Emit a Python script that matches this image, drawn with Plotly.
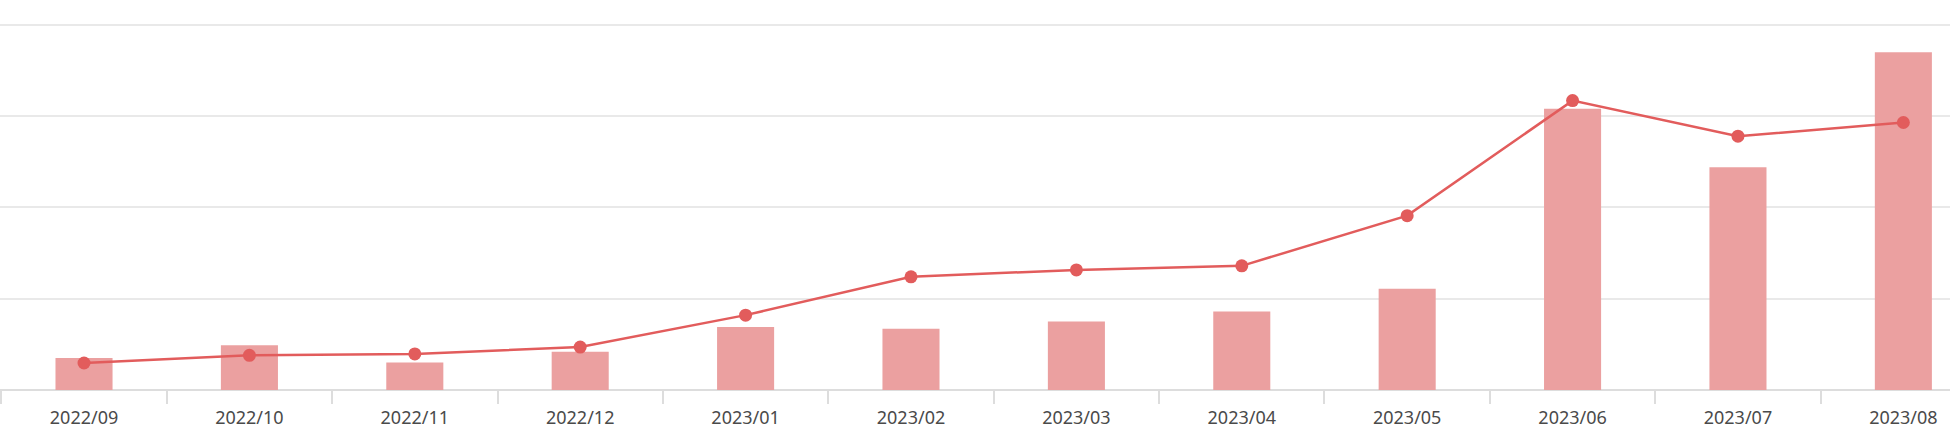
import plotly.graph_objects as go

months = ["2022/09", "2022/10", "2022/11", "2022/12", "2023/01", "2023/02",
          "2023/03", "2023/04", "2023/05", "2023/06", "2023/07", "2023/08"]
bar_values = [35, 49, 30, 42, 69, 67, 75, 86, 111, 308, 244, 370]
line_values = [29.6, 38, 39.5, 47, 82, 124, 131.5, 136, 191, 317, 278, 293]

bar_color = "rgb(235,160,160)"
line_color = "rgb(226,92,92)"

fig = go.Figure()
fig.add_trace(go.Bar(
    x=months, y=bar_values, width=0.345,
    marker=dict(color=bar_color, line=dict(width=0)),
    showlegend=False,
))
fig.add_trace(go.Scatter(
    x=months, y=line_values, mode="lines+markers",
    line=dict(color=line_color, width=2.5),
    marker=dict(color=line_color, size=13),
    showlegend=False,
))

fig.update_layout(
    width=1950, height=438,
    margin=dict(l=0, r=0, t=23, b=48, autoexpand=False),
    paper_bgcolor="white", plot_bgcolor="white",
    font=dict(family="Noto Sans, Liberation Sans, sans-serif", color="#4a4a4a"),
    xaxis=dict(
        type="category",
        range=[-0.508, 11.282],
        autorange=False,
        automargin=False,
        showgrid=False,
        showline=False,
        ticks="outside", tickson="boundaries", ticklen=13,
        tickcolor="#dddddd", tickwidth=1.5,
        ticklabelstandoff=15,
        tickfont=dict(size=18, color="#4a4a4a"),
        fixedrange=True,
    ),
    yaxis=dict(
        range=[0, 402],
        autorange=False,
        automargin=False,
        dtick=100,
        showticklabels=False,
        showgrid=True, gridcolor="#e9e9e9", gridwidth=1.5,
        zeroline=True, zerolinecolor="#dddddd", zerolinewidth=1.5,
        fixedrange=True,
    ),
)

fig.write_html(
    "out.html",
    config={"displayModeBar": False},
    post_script="document.body.style.margin='0';document.body.style.overflow='hidden';",
)
